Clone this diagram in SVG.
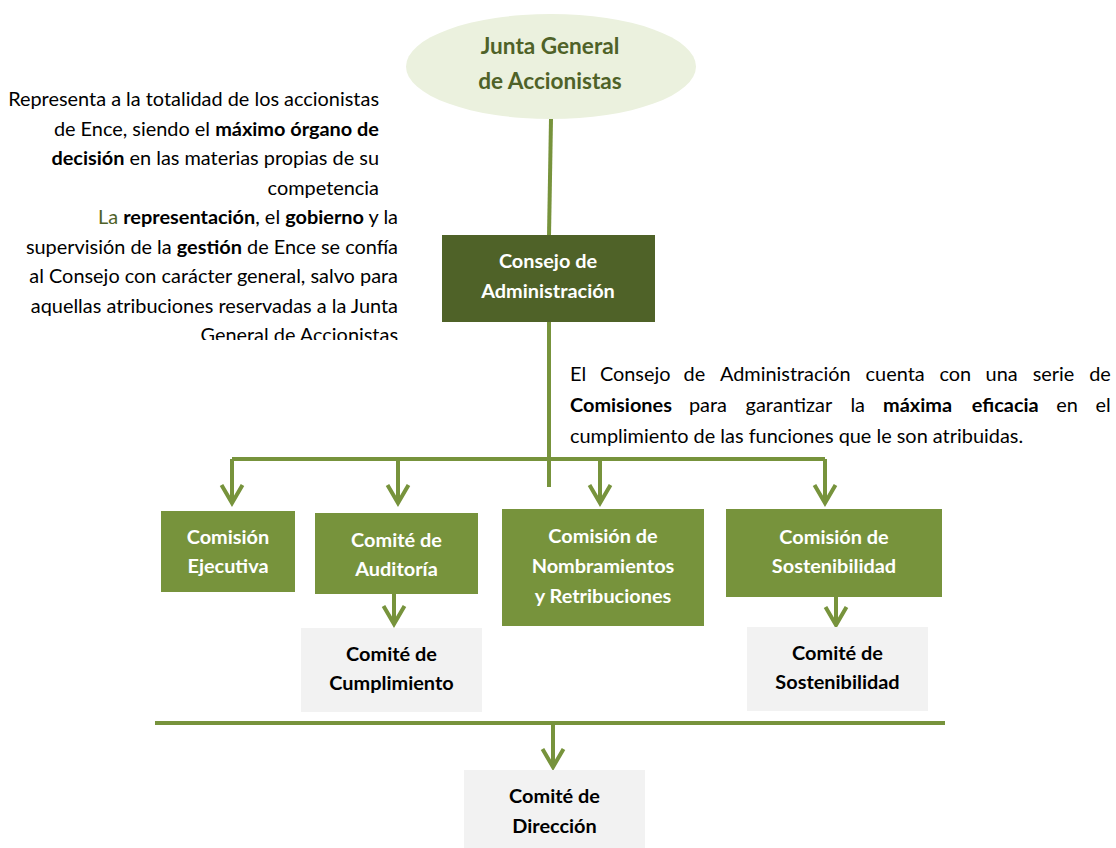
<svg xmlns="http://www.w3.org/2000/svg" width="1116" height="848" viewBox="0 0 1116 848">
<style>
  .body { font-family: Lato, "Liberation Sans", sans-serif; font-size: 19.9px; fill: #000; }
  .b { font-weight: bold; }
  .green { fill: #4F6228; }
  .lbl { font-family: Lato, "Liberation Sans", sans-serif; font-size: 19.9px; font-weight: bold; text-anchor: middle; }
  .white { fill: #FFFFFF; }
  .dark { fill: #000000; }
  .conn { fill: none; stroke: #77933C; stroke-width: 4; }
  .mid { fill: #77933C; }
  .grey { fill: #F2F2F2; }
</style>
<defs>
  <marker id="arr" markerUnits="userSpaceOnUse" markerWidth="40" markerHeight="40" refX="0" refY="0" orient="auto" overflow="visible">
    <path d="M -18 -10.5 L 0 0 L -18 10.5" fill="none" stroke="#77933C" stroke-width="4"/>
  </marker>
  <clipPath id="clipLeft">
    <rect x="0" y="0" width="420" height="340"/>
  </clipPath>
</defs>

<rect width="1116" height="848" fill="#FFFFFF"/>

<g id="connectors">
  <path class="conn" d="M 551 119 L 549 236" stroke-width="3.5"/>
  <path class="conn" d="M 549 321 L 549 487"/>
  <path class="conn" d="M 232 459 L 825 459"/>
  <path class="conn" d="M 232 459 L 232 503" marker-end="url(#arr)"/>
  <path class="conn" d="M 398 459 L 398 503" marker-end="url(#arr)"/>
  <path class="conn" d="M 600 459 L 600 503" marker-end="url(#arr)"/>
  <path class="conn" d="M 825 459 L 825 503" marker-end="url(#arr)"/>
  <path class="conn" d="M 394 593 L 394 624" marker-end="url(#arr)"/>
  <path class="conn" d="M 836 596 L 836 625" marker-end="url(#arr)"/>
  <path class="conn" d="M 155 723 L 945 723"/>
  <path class="conn" d="M 553 725 L 553 767" marker-end="url(#arr)"/>
</g>

<g id="text-left" clip-path="url(#clipLeft)">
  <text class="body" text-anchor="end" x="379" y="106">Representa a la totalidad de los accionistas</text>
  <text class="body" text-anchor="end" x="379" y="135.6">de Ence, siendo el <tspan class="b">máximo órgano de</tspan></text>
  <text class="body" text-anchor="end" x="379" y="165.2"><tspan class="b">decisión</tspan> en las materias propias de su</text>
  <text class="body" text-anchor="end" x="379" y="194.8">competencia</text>
  <text class="body" text-anchor="end" x="398" y="224"><tspan class="green">La</tspan> <tspan class="b">representación</tspan>, el <tspan class="b">gobierno</tspan> y la</text>
  <text class="body" text-anchor="end" x="398" y="253.6">supervisión de la <tspan class="b">gestión</tspan> de Ence se confía</text>
  <text class="body" text-anchor="end" x="398" y="283.2">al Consejo con carácter general, salvo para</text>
  <text class="body" text-anchor="end" x="398" y="312.8">aquellas atribuciones reservadas a la Junta</text>
  <text class="body" text-anchor="end" x="398" y="342.4">General de Accionistas</text>
</g>

<g id="text-right">
  <text class="body" y="381"><tspan x="570">El</tspan><tspan x="599.9">Consejo</tspan><tspan x="683.5">de</tspan><tspan x="719.9">Administración</tspan><tspan x="865.6">cuenta</tspan><tspan x="939.5">con</tspan><tspan x="985.6">una</tspan><tspan x="1032.7">serie</tspan><tspan x="1089.2">de</tspan></text>
  <text class="body" y="412"><tspan x="570" class="b">Comisiones</tspan><tspan x="688.9">para</tspan><tspan x="745.6">garantizar</tspan><tspan x="850.4">la</tspan><tspan x="883.1" class="b">máxima</tspan><tspan x="971.8" class="b">eficacia</tspan><tspan x="1056.2">en</tspan><tspan x="1095.6">el</tspan></text>
  <text class="body" x="570" y="443">cumplimiento de las funciones que le son atribuidas.</text>
</g>

<g id="junta">
  <ellipse cx="551" cy="66.5" rx="145" ry="52.5" fill="#EBF1DE"/>
  <text class="lbl green" style="font-size:22.6px" x="550" y="54">Junta General</text>
  <text class="lbl green" style="font-size:22.6px" x="550" y="89">de Accionistas</text>
</g>

<g id="consejo">
  <rect x="442" y="235" width="213" height="87" fill="#4F6228"/>
  <text class="lbl white" x="548" y="268">Consejo de</text>
  <text class="lbl white" x="548" y="298">Administración</text>
</g>

<g id="comision-ejecutiva">
  <rect class="mid" x="161" y="511" width="134" height="81"/>
  <text class="lbl white" x="228" y="544">Comisión</text>
  <text class="lbl white" x="228" y="573">Ejecutiva</text>
</g>

<g id="comite-auditoria">
  <rect class="mid" x="315" y="513" width="163" height="81"/>
  <text class="lbl white" x="396.5" y="547">Comité de</text>
  <text class="lbl white" x="396.5" y="576">Auditoría</text>
</g>

<g id="comision-nombramientos">
  <rect class="mid" x="502" y="509" width="202" height="117"/>
  <text class="lbl white" x="603" y="543">Comisión de</text>
  <text class="lbl white" x="603" y="573">Nombramientos</text>
  <text class="lbl white" x="603" y="603">y Retribuciones</text>
</g>

<g id="comision-sostenibilidad">
  <rect class="mid" x="726" y="509" width="216" height="88"/>
  <text class="lbl white" x="834" y="544">Comisión de</text>
  <text class="lbl white" x="834" y="573">Sostenibilidad</text>
</g>

<g id="comite-cumplimiento">
  <rect class="grey" x="301" y="628" width="181" height="84"/>
  <text class="lbl dark" x="391.5" y="661">Comité de</text>
  <text class="lbl dark" x="391.5" y="690">Cumplimiento</text>
</g>

<g id="comite-sostenibilidad">
  <rect class="grey" x="747" y="627" width="181" height="84"/>
  <text class="lbl dark" x="837.5" y="660">Comité de</text>
  <text class="lbl dark" x="837.5" y="689">Sostenibilidad</text>
</g>

<g id="comite-direccion">
  <rect class="grey" x="464" y="770" width="181" height="78"/>
  <text class="lbl dark" x="554.5" y="803">Comité de</text>
  <text class="lbl dark" x="554.5" y="833">Dirección</text>
</g>
</svg>
